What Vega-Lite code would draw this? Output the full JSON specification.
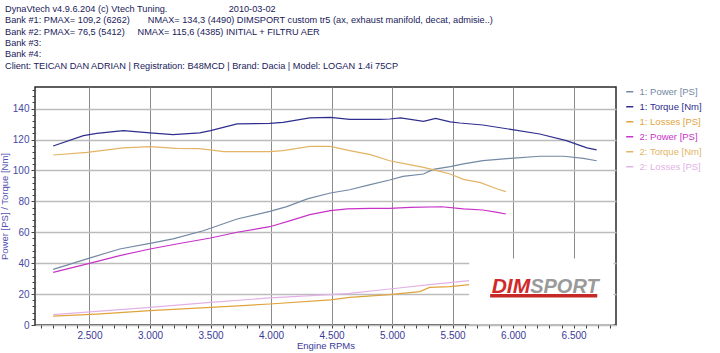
{
  "$schema": "https://vega.github.io/schema/vega-lite/v6.json",
  "width": 581,
  "height": 238,
  "autosize": {"type": "none"},
  "padding": {"left": 35, "top": 87, "right": 104, "bottom": 28},
  "background": "white",
  "title": {
    "text": [
      "DynaVtech v4.9.6.204 (c) Vtech Tuning.\u00a0\u00a0\u00a0\u00a0\u00a0\u00a0\u00a0\u00a0\u00a0\u00a0\u00a0\u00a0\u00a0\u00a0\u00a0\u00a0\u00a0\u00a0\u00a0\u00a0\u00a0\u00a0\u00a0\u00a02010-03-02",
      "Bank #1: PMAX= 109,2 (6262)\u00a0\u00a0\u00a0\u00a0\u00a0\u00a0\u00a0NMAX= 134,3 (4490) DIMSPORT custom tr5 (ax, exhaust manifold, decat, admisie..)",
      "Bank #2: PMAX= 76,5 (5412)\u00a0\u00a0\u00a0\u00a0\u00a0NMAX= 115,6 (4385) INITIAL + FILTRU AER",
      "Bank #3:",
      "Bank #4:",
      "Client: TEICAN DAN ADRIAN | Registration: B48MCD | Brand: Dacia | Model: LOGAN 1.4i 75CP"
    ],
    "anchor": "start",
    "frame": "group",
    "dx": -30,
    "offset": 14,
    "font": "Liberation Sans",
    "fontSize": 9.2,
    "fontWeight": "normal",
    "color": "#20205a",
    "lineHeight": 11.4
  },
  "config": {
    "font": "Liberation Sans",
    "view": {"stroke": "#2a2a2a", "strokeWidth": 1.5}
  },
  "datasets": {
    "curves": [
      {"s": "1: Power [PS]", "rpm": 2200, "v": 36.0},
      {"s": "1: Power [PS]", "rpm": 2500, "v": 43.3},
      {"s": "1: Power [PS]", "rpm": 2750, "v": 49.2},
      {"s": "1: Power [PS]", "rpm": 3000, "v": 52.8},
      {"s": "1: Power [PS]", "rpm": 3190, "v": 55.7},
      {"s": "1: Power [PS]", "rpm": 3440, "v": 61.0},
      {"s": "1: Power [PS]", "rpm": 3720, "v": 68.6},
      {"s": "1: Power [PS]", "rpm": 3990, "v": 73.5},
      {"s": "1: Power [PS]", "rpm": 4130, "v": 76.6},
      {"s": "1: Power [PS]", "rpm": 4300, "v": 81.6},
      {"s": "1: Power [PS]", "rpm": 4490, "v": 85.4},
      {"s": "1: Power [PS]", "rpm": 4650, "v": 87.5},
      {"s": "1: Power [PS]", "rpm": 4820, "v": 90.8},
      {"s": "1: Power [PS]", "rpm": 4980, "v": 93.8},
      {"s": "1: Power [PS]", "rpm": 5090, "v": 96.2},
      {"s": "1: Power [PS]", "rpm": 5260, "v": 97.7},
      {"s": "1: Power [PS]", "rpm": 5340, "v": 100.7},
      {"s": "1: Power [PS]", "rpm": 5480, "v": 102.5},
      {"s": "1: Power [PS]", "rpm": 5590, "v": 104.2},
      {"s": "1: Power [PS]", "rpm": 5750, "v": 106.3},
      {"s": "1: Power [PS]", "rpm": 5980, "v": 107.8},
      {"s": "1: Power [PS]", "rpm": 6220, "v": 109.2},
      {"s": "1: Power [PS]", "rpm": 6420, "v": 109.2},
      {"s": "1: Power [PS]", "rpm": 6580, "v": 107.8},
      {"s": "1: Power [PS]", "rpm": 6690, "v": 106.3},

      {"s": "1: Torque [Nm]", "rpm": 2200, "v": 115.8},
      {"s": "1: Torque [Nm]", "rpm": 2450, "v": 122.5},
      {"s": "1: Torque [Nm]", "rpm": 2560, "v": 124.0},
      {"s": "1: Torque [Nm]", "rpm": 2780, "v": 125.8},
      {"s": "1: Torque [Nm]", "rpm": 3000, "v": 124.3},
      {"s": "1: Torque [Nm]", "rpm": 3190, "v": 123.2},
      {"s": "1: Torque [Nm]", "rpm": 3410, "v": 124.3},
      {"s": "1: Torque [Nm]", "rpm": 3500, "v": 125.8},
      {"s": "1: Torque [Nm]", "rpm": 3720, "v": 130.1},
      {"s": "1: Torque [Nm]", "rpm": 3990, "v": 130.5},
      {"s": "1: Torque [Nm]", "rpm": 4100, "v": 131.1},
      {"s": "1: Torque [Nm]", "rpm": 4320, "v": 134.0},
      {"s": "1: Torque [Nm]", "rpm": 4490, "v": 134.3},
      {"s": "1: Torque [Nm]", "rpm": 4650, "v": 133.0},
      {"s": "1: Torque [Nm]", "rpm": 4900, "v": 133.0},
      {"s": "1: Torque [Nm]", "rpm": 4980, "v": 133.3},
      {"s": "1: Torque [Nm]", "rpm": 5070, "v": 134.0},
      {"s": "1: Torque [Nm]", "rpm": 5260, "v": 131.8},
      {"s": "1: Torque [Nm]", "rpm": 5360, "v": 133.7},
      {"s": "1: Torque [Nm]", "rpm": 5480, "v": 131.4},
      {"s": "1: Torque [Nm]", "rpm": 5560, "v": 130.7},
      {"s": "1: Torque [Nm]", "rpm": 5750, "v": 129.4},
      {"s": "1: Torque [Nm]", "rpm": 5980, "v": 126.6},
      {"s": "1: Torque [Nm]", "rpm": 6220, "v": 123.6},
      {"s": "1: Torque [Nm]", "rpm": 6440, "v": 119.3},
      {"s": "1: Torque [Nm]", "rpm": 6610, "v": 114.6},
      {"s": "1: Torque [Nm]", "rpm": 6690, "v": 113.3},

      {"s": "1: Losses [PS]", "rpm": 2200, "v": 5.8},
      {"s": "1: Losses [PS]", "rpm": 2560, "v": 7.1},
      {"s": "1: Losses [PS]", "rpm": 3000, "v": 9.3},
      {"s": "1: Losses [PS]", "rpm": 3500, "v": 11.4},
      {"s": "1: Losses [PS]", "rpm": 3990, "v": 13.6},
      {"s": "1: Losses [PS]", "rpm": 4490, "v": 16.2},
      {"s": "1: Losses [PS]", "rpm": 4650, "v": 17.9},
      {"s": "1: Losses [PS]", "rpm": 4980, "v": 19.6},
      {"s": "1: Losses [PS]", "rpm": 5230, "v": 21.6},
      {"s": "1: Losses [PS]", "rpm": 5310, "v": 24.3},
      {"s": "1: Losses [PS]", "rpm": 5480, "v": 24.8},
      {"s": "1: Losses [PS]", "rpm": 5640, "v": 26.1},

      {"s": "2: Power [PS]", "rpm": 2200, "v": 34.0},
      {"s": "2: Power [PS]", "rpm": 2500, "v": 39.9},
      {"s": "2: Power [PS]", "rpm": 2750, "v": 44.9},
      {"s": "2: Power [PS]", "rpm": 3000, "v": 49.2},
      {"s": "2: Power [PS]", "rpm": 3220, "v": 52.4},
      {"s": "2: Power [PS]", "rpm": 3500, "v": 56.3},
      {"s": "2: Power [PS]", "rpm": 3720, "v": 60.0},
      {"s": "2: Power [PS]", "rpm": 3990, "v": 63.6},
      {"s": "2: Power [PS]", "rpm": 4160, "v": 67.5},
      {"s": "2: Power [PS]", "rpm": 4320, "v": 71.4},
      {"s": "2: Power [PS]", "rpm": 4490, "v": 74.0},
      {"s": "2: Power [PS]", "rpm": 4630, "v": 75.1},
      {"s": "2: Power [PS]", "rpm": 4820, "v": 75.5},
      {"s": "2: Power [PS]", "rpm": 4980, "v": 75.5},
      {"s": "2: Power [PS]", "rpm": 5150, "v": 76.1},
      {"s": "2: Power [PS]", "rpm": 5410, "v": 76.5},
      {"s": "2: Power [PS]", "rpm": 5590, "v": 75.1},
      {"s": "2: Power [PS]", "rpm": 5750, "v": 74.4},
      {"s": "2: Power [PS]", "rpm": 5870, "v": 72.9},
      {"s": "2: Power [PS]", "rpm": 5940, "v": 71.8},

      {"s": "2: Torque [Nm]", "rpm": 2200, "v": 110.0},
      {"s": "2: Torque [Nm]", "rpm": 2480, "v": 111.7},
      {"s": "2: Torque [Nm]", "rpm": 2780, "v": 114.6},
      {"s": "2: Torque [Nm]", "rpm": 3000, "v": 115.4},
      {"s": "2: Torque [Nm]", "rpm": 3220, "v": 114.3},
      {"s": "2: Torque [Nm]", "rpm": 3410, "v": 114.1},
      {"s": "2: Torque [Nm]", "rpm": 3610, "v": 112.2},
      {"s": "2: Torque [Nm]", "rpm": 3990, "v": 112.2},
      {"s": "2: Torque [Nm]", "rpm": 4100, "v": 112.8},
      {"s": "2: Torque [Nm]", "rpm": 4320, "v": 115.6},
      {"s": "2: Torque [Nm]", "rpm": 4490, "v": 115.6},
      {"s": "2: Torque [Nm]", "rpm": 4650, "v": 112.8},
      {"s": "2: Torque [Nm]", "rpm": 4820, "v": 110.2},
      {"s": "2: Torque [Nm]", "rpm": 4980, "v": 106.3},
      {"s": "2: Torque [Nm]", "rpm": 5090, "v": 104.6},
      {"s": "2: Torque [Nm]", "rpm": 5260, "v": 102.0},
      {"s": "2: Torque [Nm]", "rpm": 5370, "v": 99.9},
      {"s": "2: Torque [Nm]", "rpm": 5480, "v": 97.7},
      {"s": "2: Torque [Nm]", "rpm": 5590, "v": 94.2},
      {"s": "2: Torque [Nm]", "rpm": 5730, "v": 92.1},
      {"s": "2: Torque [Nm]", "rpm": 5870, "v": 88.0},
      {"s": "2: Torque [Nm]", "rpm": 5940, "v": 86.3},

      {"s": "2: Losses [PS]", "rpm": 2200, "v": 6.7},
      {"s": "2: Losses [PS]", "rpm": 2560, "v": 8.8},
      {"s": "2: Losses [PS]", "rpm": 3000, "v": 11.4},
      {"s": "2: Losses [PS]", "rpm": 3500, "v": 14.6},
      {"s": "2: Losses [PS]", "rpm": 3990, "v": 17.5},
      {"s": "2: Losses [PS]", "rpm": 4490, "v": 19.6},
      {"s": "2: Losses [PS]", "rpm": 4650, "v": 20.5},
      {"s": "2: Losses [PS]", "rpm": 4980, "v": 23.3},
      {"s": "2: Losses [PS]", "rpm": 5310, "v": 26.1},
      {"s": "2: Losses [PS]", "rpm": 5640, "v": 28.7}
    ],
    "logoBox": [
      {"part": "box", "rpm": 5637, "rpm2": 6830, "v": 0.4, "v2": 43, "fill": "white"},
      {"part": "strip", "rpm": 5810, "rpm2": 6695, "v": 17.8, "v2": 20.0, "fill": "#c62828"}
    ],
    "logoText": [
      {"label": "DIM", "rpm": 6141, "v": 20.6, "side": "right"},
      {"label": "SPORT", "rpm": 6141, "v": 20.6, "side": "left"}
    ]
  },
  "layer": [
    {
      "data": {"name": "curves"},
      "mark": {"type": "line", "strokeWidth": 1.2},
      "encoding": {
        "x": {
          "field": "rpm",
          "type": "quantitative",
          "scale": {"domain": [2050, 6850], "nice": false, "zero": false},
          "axis": {
            "title": "Engine RPMs",
            "titleFont": "Liberation Sans",
            "titleFontSize": 9.5,
            "titleFontWeight": "normal",
            "titleColor": "#3a3a9a",
            "titlePadding": 0,
            "tickCount": 200,
            "values": [2100,2200,2300,2400,2500,2600,2700,2800,2900,3000,3100,3200,3300,3400,3500,3600,3700,3800,3900,4000,4100,4200,4300,4400,4500,4600,4700,4800,4900,5000,5100,5200,5300,5400,5500,5600,5700,5800,5900,6000,6100,6200,6300,6400,6500,6600,6700,6800],
            "labelExpr": "datum.value % 500 === 0 ? replace(format(datum.value, ','), ',', '.') : ''",
            "labelFontSize": 10,
            "labelColor": "#3a3a96",
            "labelPadding": 2,
            "labelOverlap": false,
            "labelFlush": false,
            "tickColor": "#444444",
            "tickSize": {"condition": {"test": "datum.value % 500 === 0", "value": 3}, "value": 3},
            "grid": true,
            "gridColor": "#8c8c8c",
            "gridWidth": 1,
            "gridOpacity": {"condition": {"test": "datum.value % 500 === 0", "value": 1}, "value": 0},
            "domain": false
          }
        },
        "y": {
          "field": "v",
          "type": "quantitative",
          "scale": {"domain": [0, 154], "nice": false},
          "axis": {
            "title": "Power [PS] / Torque [Nm]",
            "titleFont": "Liberation Sans",
            "titleFontSize": 9.5,
            "titleFontWeight": "normal",
            "titleColor": "#5050b0",
            "titlePadding": 3,
            "tickCount": 200,
            "values": [0,4,8,12,16,20,24,28,32,36,40,44,48,52,56,60,64,68,72,76,80,84,88,92,96,100,104,108,112,116,120,124,128,132,136,140,144,148,152],
            "labelExpr": "datum.value % 20 === 0 ? datum.label : ''",
            "format": "d",
            "labelFontSize": 10,
            "labelColor": "#4848a4",
            "labelPadding": 2,
            "labelOverlap": false,
            "labelFlush": false,
            "tickColor": "#444444",
            "tickSize": {"condition": {"test": "datum.value % 20 === 0", "value": 4}, "value": 3},
            "grid": true,
            "gridColor": "#bcbcbc",
            "gridWidth": 1.5,
            "gridOpacity": {"condition": {"test": "datum.value % 20 === 0", "value": 1}, "value": 0},
            "domain": false
          }
        },
        "color": {
          "field": "s",
          "type": "nominal",
          "scale": {
            "domain": ["1: Power [PS]", "1: Torque [Nm]", "1: Losses [PS]", "2: Power [PS]", "2: Torque [Nm]", "2: Losses [PS]"],
            "range": ["#7489a4", "#2e2e8e", "#e0a43c", "#c832c8", "#e4b466", "#e2b2e6"]
          },
          "legend": {
            "title": null,
            "orient": "right",
            "offset": 9,
            "padding": 0,
            "symbolType": "stroke",
            "symbolSize": 50,
            "symbolStrokeWidth": 1.5,
            "labelFont": "Liberation Sans",
            "labelFontSize": 9.5,
            "labelOffset": 5,
            "rowPadding": 4,
            "labelColor": {"expr": "scale('color', datum.value)"}
          }
        }
      }
    },
    {
      "data": {"name": "logoBox"},
      "mark": {"type": "rect"},
      "encoding": {
        "x": {"field": "rpm", "type": "quantitative"},
        "x2": {"field": "rpm2"},
        "y": {"field": "v", "type": "quantitative"},
        "y2": {"field": "v2"},
        "fill": {"field": "fill", "type": "nominal", "scale": null}
      }
    },
    {
      "data": {"name": "logoText"},
      "transform": [{"filter": "datum.side === 'right'"}],
      "mark": {"type": "text", "align": "right", "baseline": "alphabetic", "font": "Liberation Sans", "fontSize": 21, "fontWeight": "bold", "fontStyle": "italic", "color": "#d02a2a"},
      "encoding": {
        "x": {"field": "rpm", "type": "quantitative"},
        "y": {"field": "v", "type": "quantitative"},
        "text": {"field": "label"}
      }
    },
    {
      "data": {"name": "logoText"},
      "transform": [{"filter": "datum.side === 'left'"}],
      "mark": {"type": "text", "align": "left", "baseline": "alphabetic", "font": "Liberation Sans", "fontSize": 20, "fontWeight": "bold", "fontStyle": "italic", "color": "#9a9a9a"},
      "encoding": {
        "x": {"field": "rpm", "type": "quantitative"},
        "y": {"field": "v", "type": "quantitative"},
        "text": {"field": "label"}
      }
    }
  ]
}
